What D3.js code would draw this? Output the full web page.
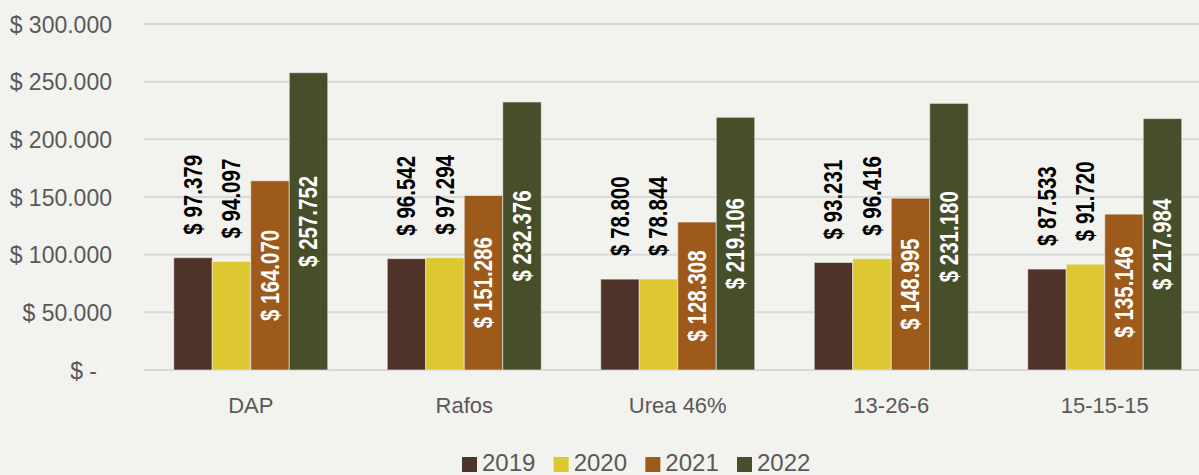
<!DOCTYPE html>
<html>
<head>
<meta charset="utf-8">
<script src="https://cdn.jsdelivr.net/npm/d3@7"></script>
<style>
    html, body { margin: 0; padding: 0; background: #f2f2ee; }
    .font { font-family: "Liberation Sans", Arial, sans-serif; }
</style>
</head>
<body>
<svg id="chart" width="1199" height="475"></svg>
<script>
const SVG_WIDTH = 1199;
const SVG_HEIGHT = 475;

// data
const categories = ["DAP", "Rafos", "Urea 46%", "13-26-6", "15-15-15"];
const years = ["2019", "2020", "2021", "2022"];
const values2019 = [97379, 96542, 78800, 93231, 87533];
const values2020 = [94097, 97294, 78844, 96416, 91720];
const values2021 = [164070, 151286, 128308, 148995, 135146];
const values2022 = [257752, 232376, 219106, 231180, 217984];
const yTicks = [0, 50000, 100000, 150000, 200000, 250000, 300000];

const seriesValues = [values2019, values2020, values2021, values2022];
const colors = ["#4f3328", "#dec832", "#9d5a1a", "#464e2a"];
const labelInside = [false, false, true, true];

const PLOT_LEFT = 144;
const PLOT_RIGHT = 1211.5;
const PLOT_TOP = 24;
const PLOT_BOTTOM = 370;

var svg = d3.select("#chart");

svg.append("rect")
    .attr("width", SVG_WIDTH)
    .attr("height", SVG_HEIGHT)
    .attr("fill", "#f2f2ee");

var yScale = d3.scaleLinear()
    .domain([0, 300000])
    .range([PLOT_BOTTOM, PLOT_TOP]);

var xScale = d3.scaleBand()
    .domain(categories)
    .range([PLOT_LEFT, PLOT_RIGHT])
    .padding(0);

var groupWidth = xScale.step() * 154 / 213.5;
var xInner = d3.scaleBand()
    .domain(years)
    .range([0, groupWidth])
    .padding(0);

function groupStart(i) {
    return xScale(categories[i]) + (xScale.step() - groupWidth) / 2;
}

// gridlines
svg.append("g")
    .selectAll("line")
    .data(yTicks)
    .enter()
    .append("line")
    .attr("x1", PLOT_LEFT)
    .attr("x2", SVG_WIDTH)
    .attr("y1", function(d) { return yScale(d); })
    .attr("y2", function(d) { return yScale(d); })
    .attr("stroke", "#d9d9d9")
    .attr("stroke-width", 2);

// y axis labels
var numFormat = function(v) {
    return d3.format(",")(v).replace(/,/g, ".");
};
var yAxis = d3.axisLeft(yScale)
    .tickValues(yTicks)
    .tickSize(0)
    .tickPadding(0)
    .tickFormat(function(d) {
        return d === 0 ? "$ -" : "$ " + numFormat(d);
    });
var yAxisGroup = svg.append("g")
    .attr("transform", "translate(112, 0)")
    .call(yAxis);
yAxisGroup.select(".domain").remove();
yAxisGroup.selectAll("text")
    .attr("class", "font")
    .attr("font-size", 23)
    .attr("fill", "#595959")
    .attr("dy", "0.35em")
    .attr("x", function(d) { return d === 0 ? -15 : 0; });

// category labels
var xAxis = d3.axisBottom(xScale).tickSize(0).tickPadding(0);
var xAxisGroup = svg.append("g")
    .attr("transform", "translate(0, 397)")
    .call(xAxis);
xAxisGroup.select(".domain").remove();
xAxisGroup.selectAll("text")
    .attr("class", "font")
    .attr("font-size", 22)
    .attr("fill", "#595959")
    .attr("dy", "0.71em");

// bars
var barGroup = svg.append("g");
years.forEach(function(year, s) {
    var vals = seriesValues[s];
    barGroup.selectAll(".bar-" + year)
        .data(vals)
        .enter()
        .append("rect")
        .attr("class", "bar-" + year)
        .attr("x", function(d, i) { return groupStart(i) + xInner(year); })
        .attr("y", function(d) { return yScale(d); })
        .attr("width", xInner.bandwidth())
        .attr("height", function(d) { return yScale(0) - yScale(d); })
        .attr("fill", colors[s])
        .attr("stroke", "#f2f2ee")
        .attr("stroke-opacity", 0.6)
        .attr("stroke-width", 1);
});

// data labels
var labelGroup = svg.append("g");
years.forEach(function(year, s) {
    var vals = seriesValues[s];
    var inside = labelInside[s];
    labelGroup.selectAll(".label-" + year)
        .data(vals)
        .enter()
        .append("text")
        .attr("class", "font label-" + year)
        .attr("font-size", 25)
        .attr("font-weight", "bold")
        .attr("fill", inside ? "#ffffff" : "#000000")
        .attr("text-anchor", inside ? "middle" : "start")
        .attr("dominant-baseline", "central")
        .attr("transform", function(d, i) {
            var cx = groupStart(i) + xInner(year) + xInner.bandwidth() / 2;
            var cy = inside ? (yScale(d) + yScale(0)) / 2 : yScale(d) - 23;
            return "translate(" + cx + "," + cy + ") rotate(-90) scale(0.82,1)";
        })
        .text(function(d) { return "$ " + numFormat(d); });
});

// legend
var legendX = d3.scalePoint()
    .domain(years)
    .range([462, 737]);
var legend = svg.append("g")
    .selectAll("g")
    .data(years)
    .enter()
    .append("g")
    .attr("transform", function(d) { return "translate(" + legendX(d) + ", 0)"; });
legend.append("rect")
    .attr("x", 0)
    .attr("y", 457)
    .attr("width", 15)
    .attr("height", 15)
    .attr("fill", function(d, i) { return colors[i]; });
legend.append("text")
    .attr("class", "font")
    .attr("x", 20)
    .attr("y", 471)
    .attr("font-size", 24)
    .attr("fill", "#595959")
    .text(function(d) { return d; });
</script>
</body>
</html>
